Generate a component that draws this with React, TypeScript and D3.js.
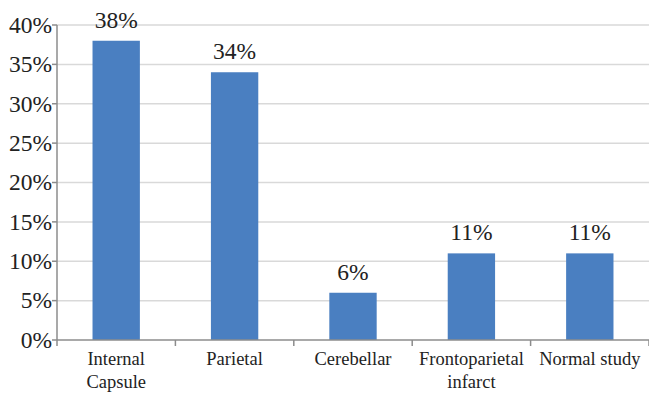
import React from "react";
import * as d3 from "d3";

const categories: string[][] = [
  ["Internal", "Capsule"],
  ["Parietal"],
  ["Cerebellar"],
  ["Frontoparietal", "infarct"],
  ["Normal study"],
];
const values: number[] = [38, 34, 6, 11, 11];
const yTicks: number[] = [0, 5, 10, 15, 20, 25, 30, 35, 40];

const W = 649;
const H = 394;
const margin = { left: 57, right: 0, top: 25, bottom: 54 };
const FONT = "'Times New Roman', 'Liberation Serif', Times, serif";

export default function App() {
  const keys = categories.map((c) => c.join(" "));
  const x = d3
    .scaleBand<string>()
    .domain(keys)
    .range([margin.left, W - margin.right])
    .paddingInner(0.6)
    .paddingOuter(0.3);
  const y = d3.scaleLinear().domain([0, 40]).range([H - margin.bottom, margin.top]);
  const bandStart = (i: number) => margin.left + i * ((W - margin.right - margin.left) / keys.length);
  const y0 = y(0);
  const ts = { fontFamily: FONT };

  return (
    <svg
      width={W}
      height={H}
      style={{ position: "absolute", left: 0, top: 0, background: "#fff" }}
    >
      {yTicks.map((t) => (
        <g key={t}>
          {t > 0 && (
            <line x1={margin.left} x2={W} y1={y(t)} y2={y(t)} stroke="#d9d9d9" strokeWidth={1.5} />
          )}
          <line x1={margin.left - 5} x2={margin.left} y1={y(t)} y2={y(t)} stroke="#8c8c8c" strokeWidth={1.5} />
          <text
            x={margin.left - 5}
            y={y(t)}
            dy="0.33em"
            textAnchor="end"
            fontSize={23.5}
            fill="#222"
            style={ts}
          >
            {t}%
          </text>
        </g>
      ))}
      {keys.map((k, i) => (
        <rect
          key={k}
          x={x(k)}
          y={y(values[i])}
          width={x.bandwidth()}
          height={y0 - y(values[i])}
          fill="#4a7fc1"
        />
      ))}
      {keys.map((k, i) => (
        <text
          key={k + "v"}
          x={(x(k) as number) + x.bandwidth() / 2}
          y={y(values[i]) - 13}
          textAnchor="middle"
          fontSize={23.5}
          fill="#222"
          style={ts}
        >
          {values[i]}%
        </text>
      ))}
      <line x1={margin.left} x2={margin.left} y1={margin.top} y2={y0} stroke="#8c8c8c" strokeWidth={1.5} />
      <line x1={margin.left} x2={W} y1={y0} y2={y0} stroke="#8c8c8c" strokeWidth={1.5} />
      {d3.range(keys.length + 1).map((i) => (
        <line
          key={"t" + i}
          x1={bandStart(i)}
          x2={bandStart(i)}
          y1={y0}
          y2={y0 + 6}
          stroke="#8c8c8c"
          strokeWidth={1.5}
        />
      ))}
      {categories.map((lines, i) => (
        <text
          key={"c" + i}
          x={(x(keys[i]) as number) + x.bandwidth() / 2}
          y={365}
          textAnchor="middle"
          fontSize={18.5}
          fill="#222"
          style={ts}
        >
          {lines.map((l, j) => (
            <tspan key={j} x={(x(keys[i]) as number) + x.bandwidth() / 2} dy={j === 0 ? 0 : 23}>
              {l}
            </tspan>
          ))}
        </text>
      ))}
    </svg>
  );
}
